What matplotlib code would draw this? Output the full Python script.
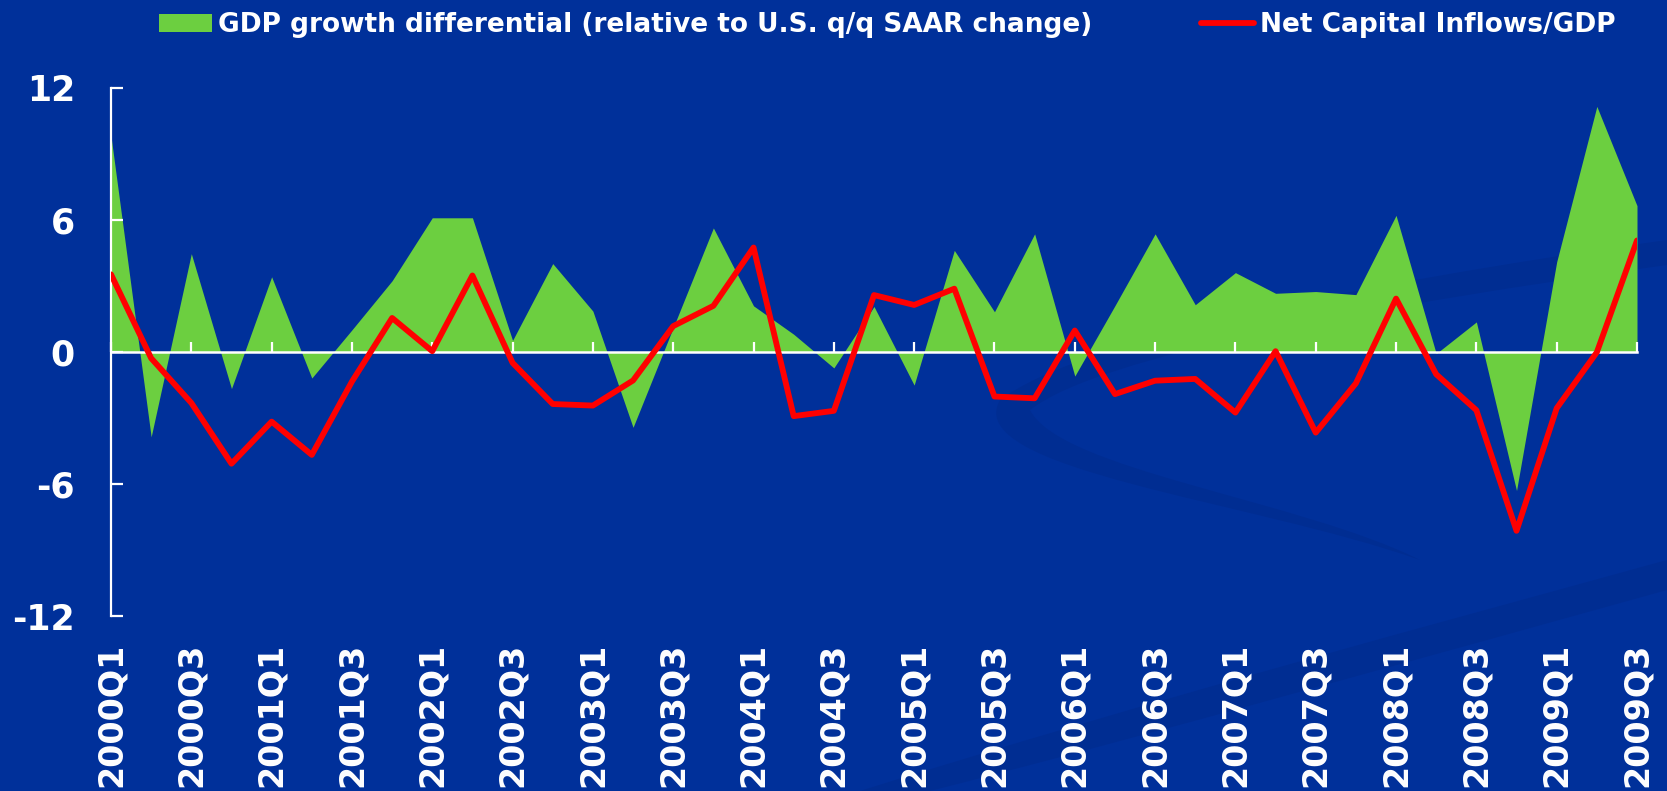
import matplotlib
matplotlib.use("Agg")
import matplotlib.pyplot as plt
import numpy as np
from matplotlib.patches import PathPatch
from matplotlib.path import Path

# ---------------- data ----------------
quarters = ["2000Q1", "2000Q2", "2000Q3", "2000Q4",
            "2001Q1", "2001Q2", "2001Q3", "2001Q4",
            "2002Q1", "2002Q2", "2002Q3", "2002Q4",
            "2003Q1", "2003Q2", "2003Q3", "2003Q4",
            "2004Q1", "2004Q2", "2004Q3", "2004Q4",
            "2005Q1", "2005Q2", "2005Q3", "2005Q4",
            "2006Q1", "2006Q2", "2006Q3", "2006Q4",
            "2007Q1", "2007Q2", "2007Q3", "2007Q4",
            "2008Q1", "2008Q2", "2008Q3", "2008Q4",
            "2009Q1", "2009Q2", "2009Q3"]

gdp_growth_diff = [9.8, -3.86, 4.46, -1.67, 3.41, -1.19, 1.0, 3.23,
                   6.09, 6.09, 0.52, 4.01, 1.85, -3.43, 1.1, 5.63,
                   2.09, 0.8, -0.73, 2.06, -1.51, 4.61, 1.82, 5.36,
                   -1.10, 2.1, 5.36, 2.14, 3.60, 2.66, 2.74, 2.60,
                   6.20, -0.08, 1.36, -6.30, 4.09, 11.15, 6.64]

net_capital_inflows = [3.52, -0.29, -2.32, -5.08, -3.17, -4.68, -1.35, 1.54,
                       0.03, 3.47, -0.50, -2.37, -2.44, -1.30, 1.17, 2.09,
                       4.74, -2.92, -2.68, 2.58, 2.13, 2.87, -2.03, -2.11,
                       0.97, -1.92, -1.31, -1.23, -2.76, 0.03, -3.67, -1.43,
                       2.42, -1.02, -2.65, -8.13, -2.56, -0.02, 5.06]

y_ticks = [-12, -6, 0, 6, 12]
y_tick_labels = ["-12", "-6", "0", "6", "12"]

label_gdp = "GDP growth differential (relative to U.S. q/q SAAR change)"
label_flow = "Net Capital Inflows/GDP"

# ---------------- style ----------------
BG = "#00309A"
SWOOSH = "#002D92"
GREEN = "#6CCF40"
RED = "#FF0000"
WHITE = "#FFFFFF"

plt.rcParams["font.family"] = ["DejaVu Sans"]
plt.rcParams["font.weight"] = "bold"

W, H = 1667, 791
fig = plt.figure(figsize=(W / 100, H / 100), dpi=100, facecolor=BG)


def fpath(pts):
    return [(px / W, 1 - py / H) for px, py in pts]


# subtle decorative background swooshes (drawn beneath the axes)
sw1 = fpath([(1667, 240), (1350, 285), (1080, 340), (1000, 400),
             (960, 470), (1250, 500), (1420, 560),
             (1300, 500), (1060, 470), (1030, 410),
             (1100, 355), (1380, 305), (1667, 265)])
codes1 = [Path.MOVETO, Path.CURVE4, Path.CURVE4, Path.CURVE4,
          Path.CURVE4, Path.CURVE4, Path.CURVE4,
          Path.CURVE4, Path.CURVE4, Path.CURVE4,
          Path.CURVE4, Path.CURVE4, Path.CURVE4]
fig.patches.append(PathPatch(Path(sw1, codes1), transform=fig.transFigure,
                             facecolor=SWOOSH, edgecolor="none", zorder=-5))
sw2 = fpath([(860, 791), (1150, 700), (1450, 620), (1667, 560),
             (1667, 590), (1450, 650), (1150, 735), (930, 791)])
codes2 = [Path.MOVETO, Path.CURVE4, Path.CURVE4, Path.CURVE4,
          Path.LINETO, Path.CURVE4, Path.CURVE4, Path.CURVE4]
fig.patches.append(PathPatch(Path(sw2, codes2), transform=fig.transFigure,
                             facecolor=SWOOSH, edgecolor="none", zorder=-5))

left, right, top, bottom = 111, 1637, 87.7, 616
ax = fig.add_axes([left / W, 1 - bottom / H, (right - left) / W, (bottom - top) / H])
ax.set_facecolor("none")
ax.set_zorder(2)

x = np.arange(len(quarters))
ax.fill_between(x, 0, gdp_growth_diff, color=GREEN, linewidth=0, zorder=1,
                label=label_gdp)
ax.plot(x, net_capital_inflows, color=RED, linewidth=4.2, zorder=4,
        solid_joinstyle="round", solid_capstyle="round", label=label_flow)

ax.set_xlim(0, len(quarters) - 1)
ax.set_ylim(-12, 12)

# spines
for s in ["top", "right"]:
    ax.spines[s].set_visible(False)
ax.spines["left"].set_color(WHITE)
ax.spines["left"].set_linewidth(1.6)
ax.spines["bottom"].set_position(("data", 0))
ax.spines["bottom"].set_color(WHITE)
ax.spines["bottom"].set_linewidth(1.8)
ax.spines["bottom"].set_zorder(3)
ax.spines["left"].set_zorder(3)

# y axis
ax.set_yticks(y_ticks)
ax.set_yticklabels(y_tick_labels)
ax.tick_params(axis="y", direction="in", length=8.5, width=1.6, color=WHITE,
               labelcolor=WHITE, labelsize=25, pad=26)
for t in ax.get_yticklabels():
    t.set_fontweight("bold")

# x ticks on the zero line (no labels there)
ax.set_xticks(x[::2])
ax.tick_params(axis="x", direction="in", length=7.5, width=1.6, color=WHITE,
               labelbottom=False)

# x labels at the bottom
sec = ax.secondary_xaxis("bottom")
sec.set_xticks(x[::2])
sec.set_xticklabels(quarters[::2], rotation=90, fontsize=24, fontweight="bold",
                    color=WHITE)
sec.tick_params(axis="x", length=0, pad=19.5)
sec.spines["bottom"].set_visible(False)

# legend
handles, labels = ax.get_legend_handles_labels()
leg = fig.legend(handles, labels, loc="center left", ncol=2, frameon=False,
                 bbox_to_anchor=(159 / W, 1 - 25 / H),
                 prop={"size": 19, "weight": "bold"},
                 handlelength=2.0, handletextpad=0.25, columnspacing=4.1,
                 borderaxespad=0, borderpad=0)
for t in leg.get_texts():
    t.set_color(WHITE)

fig.savefig("out.png", dpi=100, facecolor=BG)
